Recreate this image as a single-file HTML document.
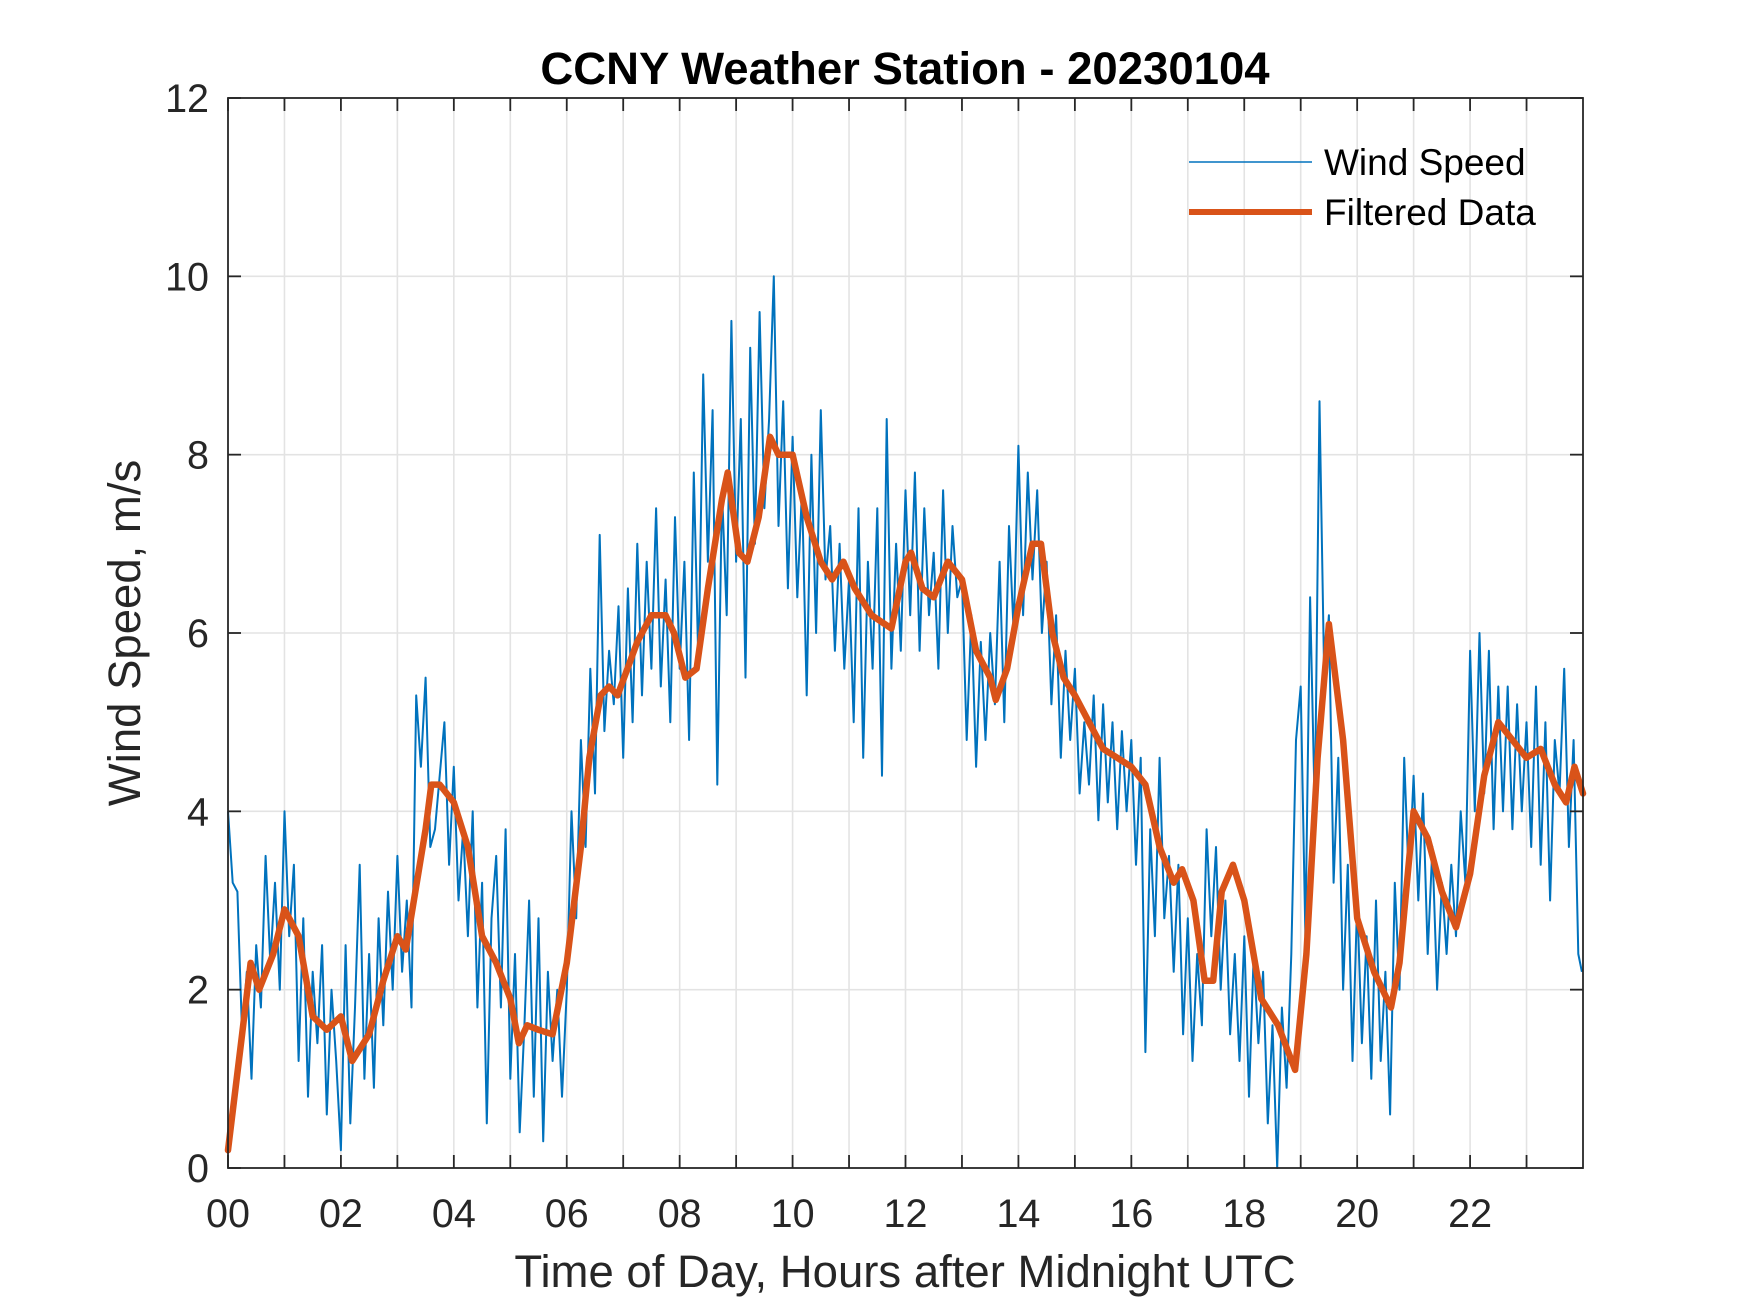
<!DOCTYPE html>
<html><head><meta charset="utf-8">
<style>
html,body{margin:0;padding:0;background:#fff;}
svg{display:block;font-family:"Liberation Sans",Arial,sans-serif;}
</style></head>
<body>
<svg id="chart" width="1750" height="1313" viewBox="0 0 1750 1313" xmlns="http://www.w3.org/2000/svg">
<rect x="0" y="0" width="1750" height="1313" fill="#fff"/>
<g id="grid"></g>
<g id="series"></g>
<g id="axes"></g>
<text x="905" y="84" text-anchor="middle" font-size="45.5" font-weight="bold" fill="#000">CCNY Weather Station - 20230104</text>
<text x="905" y="1287" text-anchor="middle" font-size="45.5" fill="#262626">Time of Day, Hours after Midnight UTC</text>
<text transform="translate(140,633) rotate(-90)" text-anchor="middle" font-size="45.5" fill="#262626">Wind Speed, m/s</text>
<g>
  <line x1="1189" y1="162" x2="1312" y2="162" stroke="#0072BD" stroke-width="1.6"/>
  <text x="1324" y="175" font-size="37" fill="#000">Wind Speed</text>
  <line x1="1189" y1="212" x2="1312" y2="212" stroke="#D95319" stroke-width="6"/>
  <text x="1324" y="225" font-size="37" fill="#000">Filtered Data</text>
</g>
</svg>
<script>
const xTicks = [0,1,2,3,4,5,6,7,8,9,10,11,12,13,14,15,16,17,18,19,20,21,22,23];
const xTickLabels = ["00","02","04","06","08","10","12","14","16","18","20","22"];
const yTicks = [0,2,4,6,8,10,12];
const windSpeed = [
4.0,3.2,3.1,1.5,2.2,1.0,2.5,1.8,3.5,2.3,3.2,2.0,
4.0,2.6,3.4,1.2,2.8,0.8,2.2,1.4,2.5,0.6,2.0,1.2,
0.2,2.5,0.5,1.8,3.4,1.0,2.4,0.9,2.8,1.6,3.1,2.0,
3.5,2.2,3.0,1.8,5.3,4.5,5.5,3.6,3.8,4.4,5.0,3.4,
4.5,3.0,3.8,2.6,4.0,1.8,3.2,0.5,2.8,3.5,1.8,3.8,
1.0,2.4,0.4,1.6,3.0,0.8,2.8,0.3,2.2,1.2,2.0,0.8,
2.0,4.0,2.8,4.8,3.6,5.6,4.2,7.1,4.9,5.8,5.2,6.3,
4.6,6.5,5.0,7.0,5.3,6.8,5.6,7.4,5.4,6.6,5.0,7.3,
5.6,6.8,4.8,7.8,5.6,8.9,6.8,8.5,4.3,7.6,6.2,9.5,
6.8,8.4,5.5,9.2,7.0,9.6,7.4,8.4,10.0,7.2,8.6,6.5,
8.2,6.4,7.6,5.3,8.0,6.0,8.5,6.6,7.2,5.8,7.0,5.6,
6.6,5.0,7.4,4.6,6.8,5.6,7.4,4.4,8.4,5.6,7.0,5.8,
7.6,6.2,7.8,5.8,7.4,6.2,6.9,5.6,7.6,6.0,7.2,6.4,
6.6,4.8,6.2,4.5,5.9,4.8,6.0,5.2,6.8,5.0,7.2,6.0,
8.1,6.2,7.8,6.6,7.6,6.0,6.8,5.2,6.2,4.6,5.8,4.8,
5.6,4.2,5.0,4.3,5.3,3.9,5.2,4.1,5.0,3.8,4.9,4.0,
4.8,3.4,4.6,1.3,3.8,2.6,4.6,2.8,3.5,2.2,3.4,1.5,
2.8,1.2,2.4,1.6,3.8,2.6,3.6,2.0,3.0,1.5,2.4,1.2,
2.6,0.8,2.4,1.4,2.2,0.5,1.6,0.0,1.8,0.9,2.4,4.8,
5.4,2.6,6.4,4.0,8.6,5.5,6.2,3.2,4.6,2.0,3.4,1.2,
3.0,1.4,2.6,1.0,3.0,1.2,2.2,0.6,3.2,2.0,4.6,3.2,
4.4,3.0,4.2,2.4,3.6,2.0,3.2,2.4,3.4,2.6,4.0,3.2,
5.8,4.0,6.0,4.2,5.8,3.8,5.4,4.0,5.4,3.8,5.2,4.0,
5.0,3.6,5.4,3.4,5.0,3.0,4.8,4.2,5.6,3.6,4.8,2.4,2.2];
const filteredHours = [0,0.25,0.4,0.55,0.8,1.0,1.25,1.5,1.75,2.0,2.2,2.5,2.75,3.0,3.15,3.5,3.6,3.75,4.0,4.25,4.5,4.75,5.0,5.15,5.3,5.5,5.75,6.0,6.25,6.4,6.6,6.75,6.9,7.25,7.5,7.75,7.9,8.1,8.3,8.5,8.75,8.85,9.05,9.2,9.4,9.6,9.75,10.0,10.25,10.5,10.7,10.9,11.1,11.4,11.75,12.0,12.1,12.3,12.5,12.75,13.0,13.25,13.5,13.6,13.8,14.0,14.25,14.4,14.6,14.8,15.0,15.25,15.5,15.75,16.0,16.25,16.5,16.75,16.9,17.1,17.3,17.45,17.6,17.8,18.0,18.3,18.6,18.9,19.1,19.3,19.5,19.75,20.0,20.3,20.6,20.75,21.0,21.25,21.5,21.75,22.0,22.25,22.5,22.75,23.0,23.25,23.5,23.7,23.85,24.0];
const filteredValues = [0.2,1.5,2.3,2.0,2.4,2.9,2.6,1.7,1.55,1.7,1.2,1.5,2.1,2.6,2.45,3.8,4.3,4.3,4.1,3.6,2.6,2.3,1.9,1.4,1.6,1.55,1.5,2.3,3.6,4.6,5.3,5.4,5.3,5.9,6.2,6.2,6.0,5.5,5.6,6.5,7.5,7.8,6.9,6.8,7.3,8.2,8.0,8.0,7.3,6.8,6.6,6.8,6.5,6.2,6.05,6.8,6.9,6.5,6.4,6.8,6.6,5.8,5.5,5.25,5.6,6.3,7.0,7.0,6.0,5.5,5.3,5.0,4.7,4.6,4.5,4.3,3.6,3.2,3.35,3.0,2.1,2.1,3.1,3.4,3.0,1.9,1.6,1.1,2.4,4.6,6.1,4.8,2.8,2.2,1.8,2.3,4.0,3.7,3.1,2.7,3.3,4.4,5.0,4.8,4.6,4.7,4.3,4.1,4.5,4.2];

const NS = "http://www.w3.org/2000/svg";
const L = 228, R = 1583, T = 98, B = 1168;
const xScale = h => L + (h / 24) * (R - L);
const yScale = v => B - (v / 12) * (B - T);
function mk(tag, attrs, parent) {
  const e = document.createElementNS(NS, tag);
  for (const k in attrs) e.setAttribute(k, attrs[k]);
  parent.appendChild(e);
  return e;
}
const grid = document.getElementById('grid');
const axes = document.getElementById('axes');
const series = document.getElementById('series');

xTicks.forEach(h => {
  if (h === 0) return;
  const x = xScale(h);
  const g = mk('line', {x1: x, y1: T, x2: x, y2: B, stroke: '#e3e3e3', 'stroke-width': 1.6}, grid);
  
  
});
yTicks.forEach(v => {
  if (v === 0 || v === 12) return;
  const y = yScale(v);
  const g = mk('line', {x1: L, y1: y, x2: R, y2: y, stroke: '#e3e3e3', 'stroke-width': 1.6}, grid);
  
  
});

function pathFrom(xs, ys) {
  return xs.map((x, i) => (i ? 'L' : 'M') + xScale(x).toFixed(1) + ' ' + yScale(ys[i]).toFixed(1)).join(' ');
}
const windHours = windSpeed.map((v, i) => Math.min(i / 12, 23.98));
const wp = mk('path', {d: pathFrom(windHours, windSpeed), fill: 'none', stroke: '#0072BD', 'stroke-width': 2, 'stroke-linejoin': 'round'}, series);


const fp = mk('path', {d: pathFrom(filteredHours, filteredValues), fill: 'none', stroke: '#D95319', 'stroke-width': 6.5, 'stroke-linejoin': 'round', 'stroke-linecap': 'round'}, series);



const frame = mk('rect', {x: L, y: T, width: R - L, height: B - T, fill: 'none', stroke: '#262626', 'stroke-width': 1.8}, axes);



xTicks.forEach(h => {
  const x = xScale(h);
  const t1 = mk('line', {x1: x, y1: B, x2: x, y2: B - 13, stroke: '#262626', 'stroke-width': 1.8}, axes);
  
  
  const t2 = mk('line', {x1: x, y1: T, x2: x, y2: T + 13, stroke: '#262626', 'stroke-width': 1.8}, axes);
  
  
});
xTickLabels.forEach((lab, i) => {
  const t = mk('text', {x: xScale(i * 2), y: 1227, 'text-anchor': 'middle', 'font-size': 39.5, fill: '#262626'}, axes);
  t.textContent = lab;
  
  
});
yTicks.forEach(v => {
  const y = yScale(v);
  const t1 = mk('line', {x1: L, y1: y, x2: L + 13, y2: y, stroke: '#262626', 'stroke-width': 1.8}, axes);
  
  
  const t2 = mk('line', {x1: R, y1: y, x2: R - 13, y2: y, stroke: '#262626', 'stroke-width': 1.8}, axes);
  
  
  const t = mk('text', {x: 209, y: y + 14, 'text-anchor': 'end', 'font-size': 39.5, fill: '#262626'}, axes);
  t.textContent = String(v);
  
  
});
</script>
</body></html>
